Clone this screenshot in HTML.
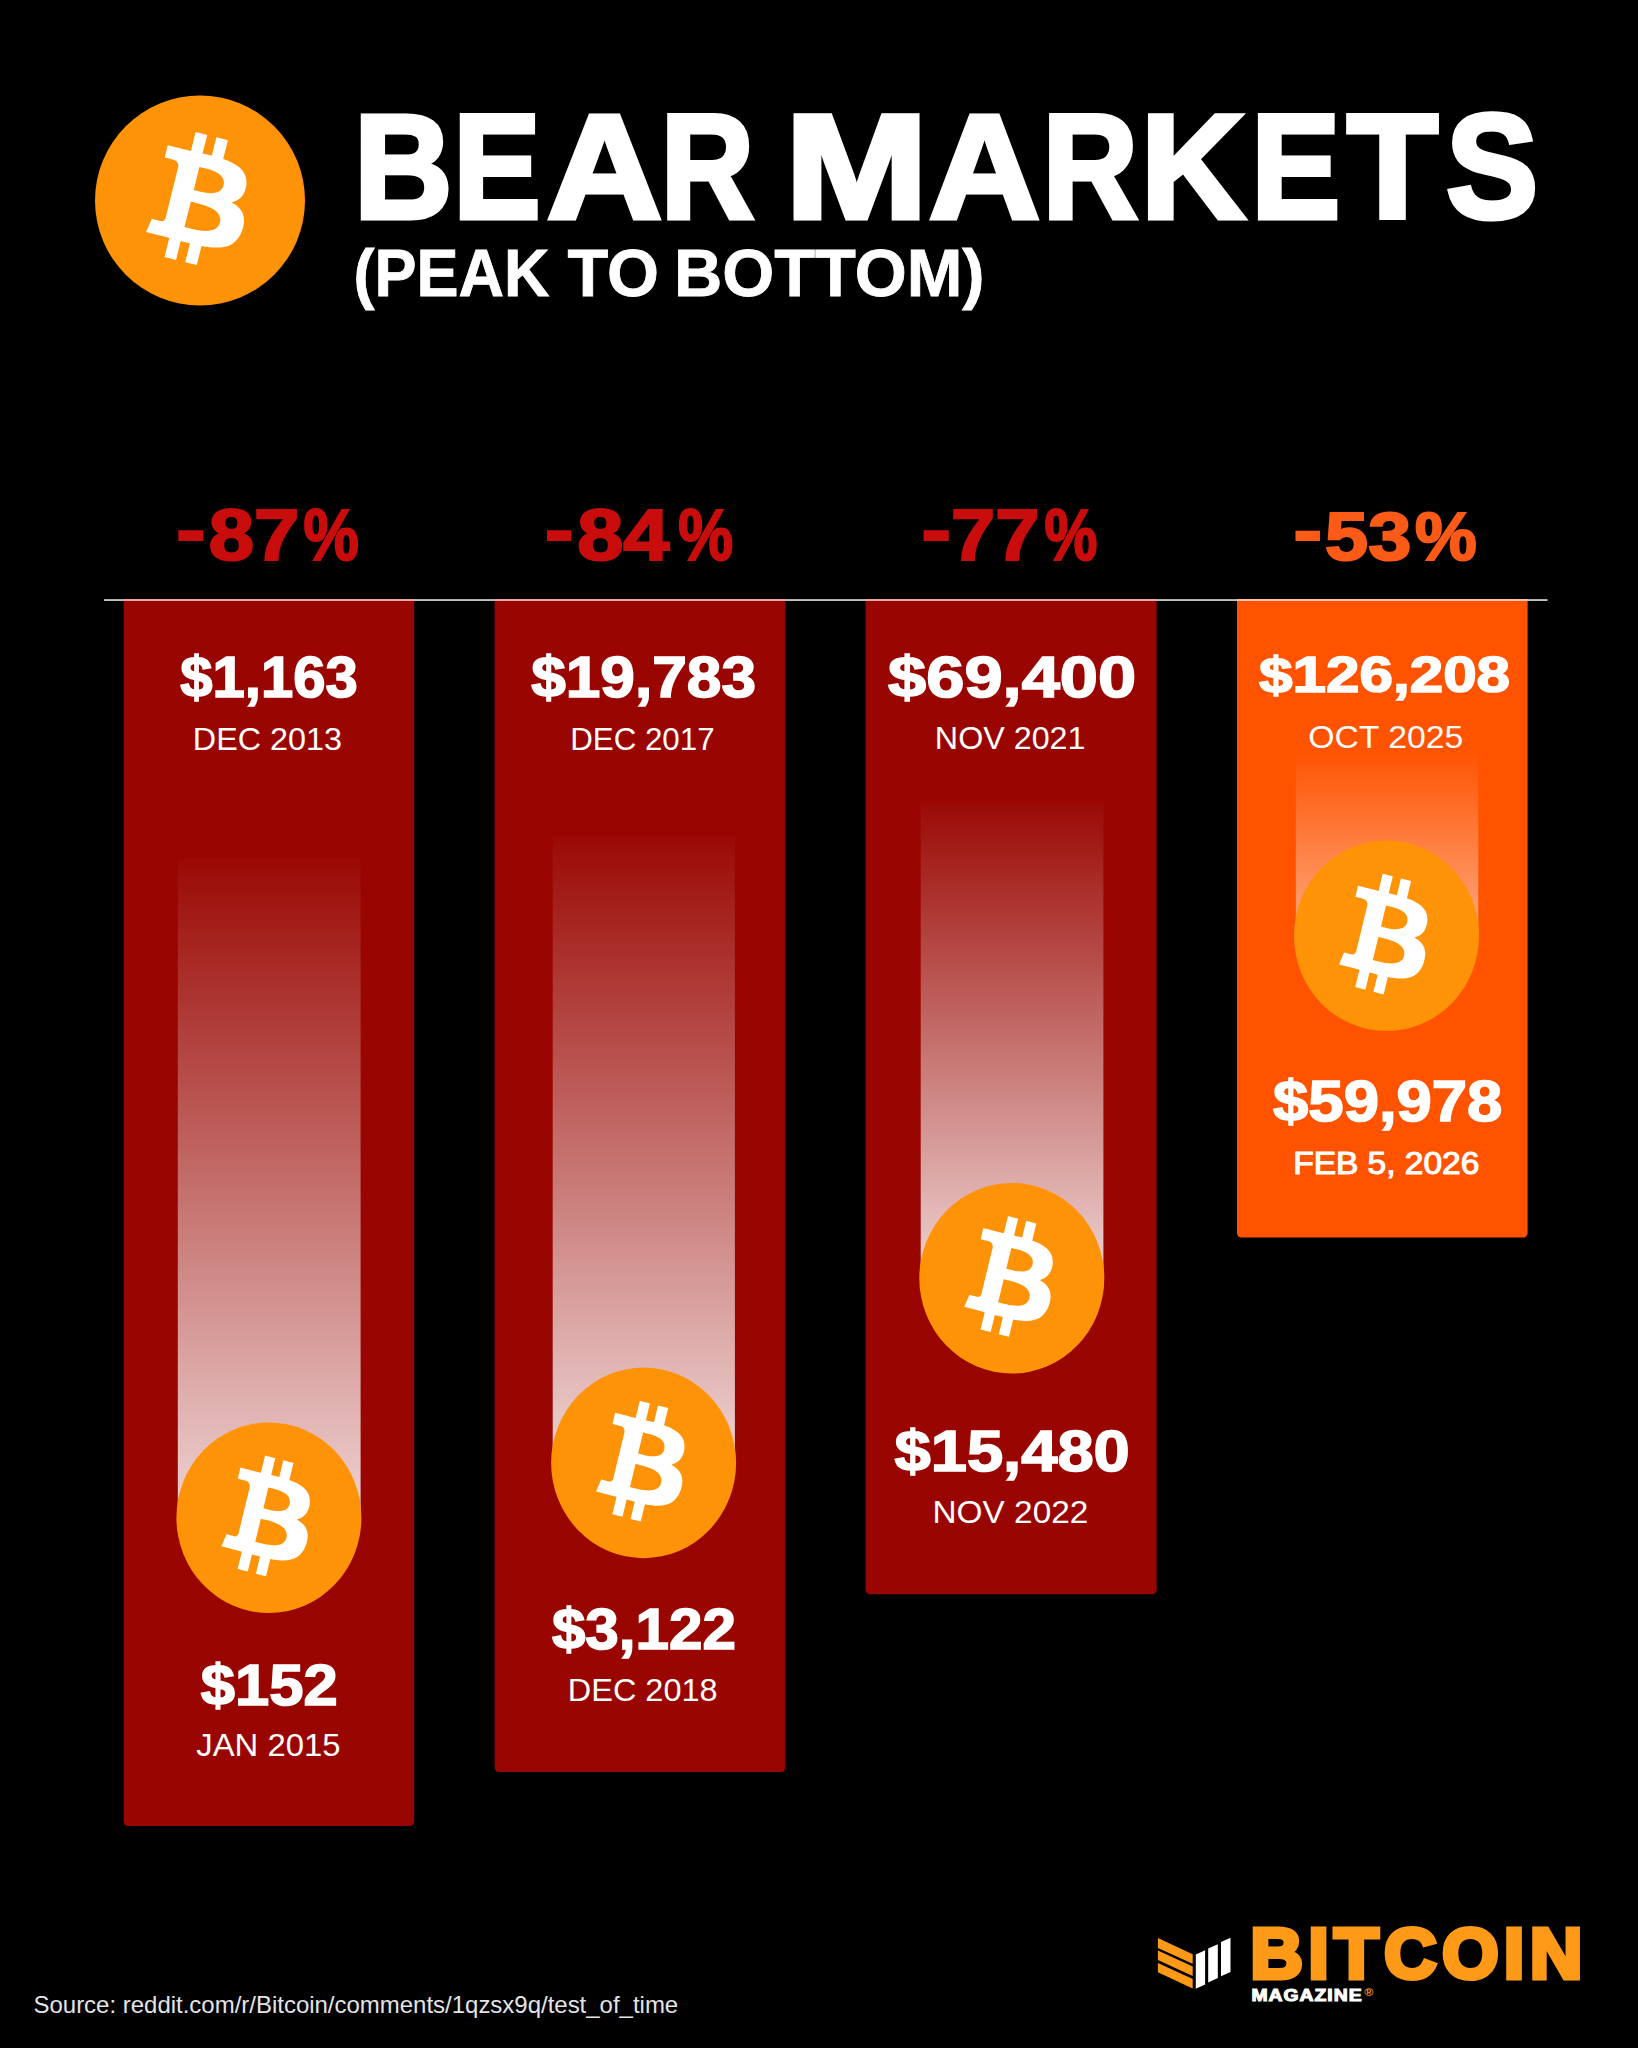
<!DOCTYPE html>
<html lang="en"><head><meta charset="utf-8"><title>Bear Markets (Peak to Bottom)</title>
<style>html,body{margin:0;padding:0;background:#000;}svg{display:block}.t{font-family:"Liberation Sans",sans-serif;}</style></head><body>
<svg width="1638" height="2048" viewBox="0 0 1638 2048">
<defs><linearGradient id="gr" x1="0" y1="0" x2="0" y2="1"><stop offset="0" stop-color="#fff" stop-opacity="0.02"/><stop offset="1" stop-color="#fff" stop-opacity="0.83"/></linearGradient><linearGradient id="go" x1="0" y1="0" x2="0" y2="1"><stop offset="0" stop-color="#fff" stop-opacity="0.0"/><stop offset="1" stop-color="#fff" stop-opacity="0.50"/></linearGradient></defs>
<rect width="1638" height="2048" fill="#000"/>
<g id="hdr"><ellipse cx="200" cy="200.5" rx="105" ry="105" fill="#ff9308"/><path fill="#fff" transform="translate(95.00 95.50) scale(3.2812 3.2812)" d="m46.103,27.444c0.637-4.258-2.605-6.547-7.038-8.074l1.438-5.768-3.511-0.875-1.4,5.616c-0.923-0.23-1.871-0.447-2.813-0.662l1.41-5.653-3.509-0.875-1.439,5.766c-0.764-0.174-1.514-0.346-2.242-0.527l0.004-0.018-4.842-1.209-0.934,3.75s2.605,0.597,2.55,0.634c1.422,0.355,1.679,1.296,1.636,2.042l-1.638,6.571c0.098,0.025,0.225,0.061,0.365,0.117-0.117-0.029-0.242-0.061-0.371-0.092l-2.296,9.205c-0.174,0.432-0.615,1.08-1.609,0.834,0.035,0.051-2.552-0.637-2.552-0.637l-1.743,4.019,4.569,1.139c0.85,0.213,1.683,0.436,2.503,0.646l-1.453,5.834,3.507,0.875,1.439-5.772c0.958,0.26,1.888,0.5,2.798,0.726l-1.434,5.745,3.511,0.875,1.453-5.823c5.987,1.133,10.489,0.676,12.384-4.739,1.527-4.36-0.076-6.875-3.226-8.515,2.294-0.529,4.022-2.038,4.483-5.155zm-8.022,11.249c-1.085,4.36-8.426,2.003-10.806,1.412l1.928-7.729c2.38,0.594,10.012,1.77,8.878,6.317zm1.086-11.312c-0.99,3.966-7.1,1.951-9.082,1.457l1.748-7.01c1.982,0.494,8.365,1.416,7.334,5.553z"/></g>
<g id="bars">
<path fill="#990500" d="M123.6 600H414.2V1821Q414.2 1826 409.2 1826H128.6Q123.6 1826 123.6 1821Z"/>
<path fill="#990500" d="M494.6 600H785.4V1767Q785.4 1772 780.4 1772H499.6Q494.6 1772 494.6 1767Z"/>
<path fill="#990500" d="M865.6 600H1156.6V1589.2Q1156.6 1594.2 1151.6 1594.2H870.6Q865.6 1594.2 865.6 1589.2Z"/>
<path fill="#ff5300" d="M1237 600H1527.6V1232.6Q1527.6 1237.6 1522.6 1237.6H1242Q1237 1237.6 1237 1232.6Z"/>
</g>
<g id="rule"><rect x="104" y="599.1" width="1443.5" height="1.9" fill="#c2c2c2"/>
<rect x="123.6" y="599.1" width="290.6" height="1.9" fill="#eaa7a7"/>
<rect x="494.6" y="599.1" width="290.8" height="1.9" fill="#eaa7a7"/>
<rect x="865.6" y="599.1" width="291.0" height="1.9" fill="#eaa7a7"/>
<rect x="1237" y="599.1" width="290.6" height="1.9" fill="#ffc4a8"/>
</g>
<g id="strips">
<rect x="177.8" y="859" width="182.8" height="659" fill="url(#gr)"/>
<rect x="552.7" y="836.5" width="182.2" height="626.5" fill="url(#gr)"/>
<rect x="920.7" y="803" width="182.7" height="475" fill="url(#gr)"/>
<rect x="1295.8" y="750" width="182.5" height="186" fill="url(#go)"/>
</g>
<g id="coins">
<ellipse cx="268.9" cy="1517.7" rx="92.5" ry="95.3" fill="#ff9308"/><path fill="#fff" transform="translate(176.40 1422.40) scale(2.8906 2.9781)" d="m46.103,27.444c0.637-4.258-2.605-6.547-7.038-8.074l1.438-5.768-3.511-0.875-1.4,5.616c-0.923-0.23-1.871-0.447-2.813-0.662l1.41-5.653-3.509-0.875-1.439,5.766c-0.764-0.174-1.514-0.346-2.242-0.527l0.004-0.018-4.842-1.209-0.934,3.75s2.605,0.597,2.55,0.634c1.422,0.355,1.679,1.296,1.636,2.042l-1.638,6.571c0.098,0.025,0.225,0.061,0.365,0.117-0.117-0.029-0.242-0.061-0.371-0.092l-2.296,9.205c-0.174,0.432-0.615,1.08-1.609,0.834,0.035,0.051-2.552-0.637-2.552-0.637l-1.743,4.019,4.569,1.139c0.85,0.213,1.683,0.436,2.503,0.646l-1.453,5.834,3.507,0.875,1.439-5.772c0.958,0.26,1.888,0.5,2.798,0.726l-1.434,5.745,3.511,0.875,1.453-5.823c5.987,1.133,10.489,0.676,12.384-4.739,1.527-4.36-0.076-6.875-3.226-8.515,2.294-0.529,4.022-2.038,4.483-5.155zm-8.022,11.249c-1.085,4.36-8.426,2.003-10.806,1.412l1.928-7.729c2.38,0.594,10.012,1.77,8.878,6.317zm1.086-11.312c-0.99,3.966-7.1,1.951-9.082,1.457l1.748-7.01c1.982,0.494,8.365,1.416,7.334,5.553z"/>
<ellipse cx="643.6" cy="1462.9" rx="92.5" ry="95.3" fill="#ff9308"/><path fill="#fff" transform="translate(551.10 1367.60) scale(2.8906 2.9781)" d="m46.103,27.444c0.637-4.258-2.605-6.547-7.038-8.074l1.438-5.768-3.511-0.875-1.4,5.616c-0.923-0.23-1.871-0.447-2.813-0.662l1.41-5.653-3.509-0.875-1.439,5.766c-0.764-0.174-1.514-0.346-2.242-0.527l0.004-0.018-4.842-1.209-0.934,3.75s2.605,0.597,2.55,0.634c1.422,0.355,1.679,1.296,1.636,2.042l-1.638,6.571c0.098,0.025,0.225,0.061,0.365,0.117-0.117-0.029-0.242-0.061-0.371-0.092l-2.296,9.205c-0.174,0.432-0.615,1.08-1.609,0.834,0.035,0.051-2.552-0.637-2.552-0.637l-1.743,4.019,4.569,1.139c0.85,0.213,1.683,0.436,2.503,0.646l-1.453,5.834,3.507,0.875,1.439-5.772c0.958,0.26,1.888,0.5,2.798,0.726l-1.434,5.745,3.511,0.875,1.453-5.823c5.987,1.133,10.489,0.676,12.384-4.739,1.527-4.36-0.076-6.875-3.226-8.515,2.294-0.529,4.022-2.038,4.483-5.155zm-8.022,11.249c-1.085,4.36-8.426,2.003-10.806,1.412l1.928-7.729c2.38,0.594,10.012,1.77,8.878,6.317zm1.086-11.312c-0.99,3.966-7.1,1.951-9.082,1.457l1.748-7.01c1.982,0.494,8.365,1.416,7.334,5.553z"/>
<ellipse cx="1011.8" cy="1278.2" rx="92.5" ry="95.3" fill="#ff9308"/><path fill="#fff" transform="translate(919.30 1182.90) scale(2.8906 2.9781)" d="m46.103,27.444c0.637-4.258-2.605-6.547-7.038-8.074l1.438-5.768-3.511-0.875-1.4,5.616c-0.923-0.23-1.871-0.447-2.813-0.662l1.41-5.653-3.509-0.875-1.439,5.766c-0.764-0.174-1.514-0.346-2.242-0.527l0.004-0.018-4.842-1.209-0.934,3.75s2.605,0.597,2.55,0.634c1.422,0.355,1.679,1.296,1.636,2.042l-1.638,6.571c0.098,0.025,0.225,0.061,0.365,0.117-0.117-0.029-0.242-0.061-0.371-0.092l-2.296,9.205c-0.174,0.432-0.615,1.08-1.609,0.834,0.035,0.051-2.552-0.637-2.552-0.637l-1.743,4.019,4.569,1.139c0.85,0.213,1.683,0.436,2.503,0.646l-1.453,5.834,3.507,0.875,1.439-5.772c0.958,0.26,1.888,0.5,2.798,0.726l-1.434,5.745,3.511,0.875,1.453-5.823c5.987,1.133,10.489,0.676,12.384-4.739,1.527-4.36-0.076-6.875-3.226-8.515,2.294-0.529,4.022-2.038,4.483-5.155zm-8.022,11.249c-1.085,4.36-8.426,2.003-10.806,1.412l1.928-7.729c2.38,0.594,10.012,1.77,8.878,6.317zm1.086-11.312c-0.99,3.966-7.1,1.951-9.082,1.457l1.748-7.01c1.982,0.494,8.365,1.416,7.334,5.553z"/>
<ellipse cx="1386.5" cy="935.8" rx="92.5" ry="95.3" fill="#ff9308"/><path fill="#fff" transform="translate(1294.00 840.50) scale(2.8906 2.9781)" d="m46.103,27.444c0.637-4.258-2.605-6.547-7.038-8.074l1.438-5.768-3.511-0.875-1.4,5.616c-0.923-0.23-1.871-0.447-2.813-0.662l1.41-5.653-3.509-0.875-1.439,5.766c-0.764-0.174-1.514-0.346-2.242-0.527l0.004-0.018-4.842-1.209-0.934,3.75s2.605,0.597,2.55,0.634c1.422,0.355,1.679,1.296,1.636,2.042l-1.638,6.571c0.098,0.025,0.225,0.061,0.365,0.117-0.117-0.029-0.242-0.061-0.371-0.092l-2.296,9.205c-0.174,0.432-0.615,1.08-1.609,0.834,0.035,0.051-2.552-0.637-2.552-0.637l-1.743,4.019,4.569,1.139c0.85,0.213,1.683,0.436,2.503,0.646l-1.453,5.834,3.507,0.875,1.439-5.772c0.958,0.26,1.888,0.5,2.798,0.726l-1.434,5.745,3.511,0.875,1.453-5.823c5.987,1.133,10.489,0.676,12.384-4.739,1.527-4.36-0.076-6.875-3.226-8.515,2.294-0.529,4.022-2.038,4.483-5.155zm-8.022,11.249c-1.085,4.36-8.426,2.003-10.806,1.412l1.928-7.729c2.38,0.594,10.012,1.77,8.878,6.317zm1.086-11.312c-0.99,3.966-7.1,1.951-9.082,1.457l1.748-7.01c1.982,0.494,8.365,1.416,7.334,5.553z"/>
</g>
<g id="bmicon"><path fill="#fe9a18" d="M1157.9 1938.1L1192.7 1954.3V1963.8L1157.9 1947.9Z M1157.9 1950.6L1192.7 1966.5V1976L1157.9 1960.1Z M1157.9 1962.9L1192.7 1979V1988.5L1157.9 1972.3Z"/><path fill="#fff" d="M1195.8 1954.6L1205.1 1950.3V1984.5L1195.8 1988.8Z M1208.2 1948.5L1217.8 1944.2V1978.1L1208.2 1982.4Z M1221 1942.1L1230.5 1937.8V1972L1221 1976.3Z"/></g>
<g id="texts">
<text id="title" class="t" font-size="148.3" font-weight="bold" fill="#fff" stroke="#fff" stroke-width="5.0" stroke-linejoin="miter"><tspan id="title_0" x="354.09" y="218.10" textLength="98.39" lengthAdjust="spacingAndGlyphs">B</tspan><tspan id="title_1" x="453.28" y="218.10" textLength="87.31" lengthAdjust="spacingAndGlyphs">E</tspan><tspan id="title_2" x="547.00" y="218.10" textLength="115.01" lengthAdjust="spacingAndGlyphs">A</tspan><tspan id="title_3" x="660.65" y="218.10" textLength="93.30" lengthAdjust="spacingAndGlyphs">R</tspan> <tspan id="title_4" x="785.01" y="218.10" textLength="143.05" lengthAdjust="spacingAndGlyphs">M</tspan><tspan id="title_5" x="928.99" y="218.10" textLength="111.02" lengthAdjust="spacingAndGlyphs">A</tspan><tspan id="title_6" x="1042.61" y="218.10" textLength="95.35" lengthAdjust="spacingAndGlyphs">R</tspan><tspan id="title_7" x="1140.74" y="218.10" textLength="104.16" lengthAdjust="spacingAndGlyphs">K</tspan><tspan id="title_8" x="1251.24" y="218.10" textLength="89.00" lengthAdjust="spacingAndGlyphs">E</tspan><tspan id="title_9" x="1347.00" y="218.10" textLength="91.05" lengthAdjust="spacingAndGlyphs">T</tspan><tspan id="title_10" x="1445.95" y="218.10" textLength="92.20" lengthAdjust="spacingAndGlyphs">S</tspan></text>
<text id="sub" class="t" font-size="66.6" font-weight="bold" fill="#fff" stroke="#fff" stroke-width="0.8" stroke-linejoin="miter"><tspan id="sub_0" x="353.46" y="295.65" textLength="196.05" lengthAdjust="spacingAndGlyphs">(PEAK</tspan> <tspan id="sub_1" x="567.50" y="295.65" textLength="91.56" lengthAdjust="spacingAndGlyphs">TO</tspan> <tspan id="sub_2" x="673.91" y="295.65" textLength="310.68" lengthAdjust="spacingAndGlyphs">BOTTOM)</tspan></text>
<text id="p1" class="t" font-size="72.5" font-weight="bold" fill="#c90c0c" stroke="#c90c0c" stroke-width="2.2" stroke-linejoin="miter"><tspan id="p1_0" x="176.22" y="554.20" textLength="29.20" lengthAdjust="spacingAndGlyphs">-</tspan><tspan id="p1_1" x="208.70" y="560.40" textLength="90.62" lengthAdjust="spacingAndGlyphs">87</tspan><tspan id="p1_2" x="303.53" y="560.40" textLength="55.27" lengthAdjust="spacingAndGlyphs">%</tspan></text>
<text id="p2" class="t" font-size="72.5" font-weight="bold" fill="#c90c0c" stroke="#c90c0c" stroke-width="2.2" stroke-linejoin="miter"><tspan id="p2_0" x="545.00" y="554.20" textLength="28.46" lengthAdjust="spacingAndGlyphs">-</tspan><tspan id="p2_1" x="577.20" y="560.40" textLength="92.30" lengthAdjust="spacingAndGlyphs">84</tspan><tspan id="p2_2" x="678.14" y="560.40" textLength="54.86" lengthAdjust="spacingAndGlyphs">%</tspan></text>
<text id="p3" class="t" font-size="72.5" font-weight="bold" fill="#c90c0c" stroke="#c90c0c" stroke-width="2.2" stroke-linejoin="miter"><tspan id="p3_0" x="921.40" y="554.20" textLength="29.48" lengthAdjust="spacingAndGlyphs">-</tspan><tspan id="p3_1" x="951.07" y="560.40" textLength="88.22" lengthAdjust="spacingAndGlyphs">77</tspan><tspan id="p3_2" x="1044.58" y="560.40" textLength="52.88" lengthAdjust="spacingAndGlyphs">%</tspan></text>
<text id="p4" class="t" font-size="69.2" font-weight="bold" fill="#fb5a17" stroke="#fb5a17" stroke-width="2.2" stroke-linejoin="miter"><tspan id="p4_0" x="1293.57" y="554.20" textLength="28.54" lengthAdjust="spacingAndGlyphs">-</tspan><tspan id="p4_1" x="1325.13" y="560.40" textLength="86.13" lengthAdjust="spacingAndGlyphs">53</tspan><tspan id="p4_2" x="1414.91" y="560.40" textLength="61.69" lengthAdjust="spacingAndGlyphs">%</tspan></text>
<text id="a1" class="t" x="180.30" y="696.60" font-size="57" font-weight="bold" fill="#fff" stroke="#fff" stroke-width="1.6" stroke-linejoin="miter" textLength="177.41" lengthAdjust="spacingAndGlyphs">$1,163</text>
<text id="a2" class="t" x="531.20" y="696.60" font-size="57" font-weight="bold" fill="#fff" stroke="#fff" stroke-width="1.6" stroke-linejoin="miter" textLength="224.80" lengthAdjust="spacingAndGlyphs">$19,783</text>
<text id="a3" class="t" x="888.10" y="696.60" font-size="57" font-weight="bold" fill="#fff" stroke="#fff" stroke-width="1.6" stroke-linejoin="miter" textLength="248.12" lengthAdjust="spacingAndGlyphs">$69,400</text>
<text id="a4" class="t" x="1259.00" y="691.70" font-size="50.1" font-weight="bold" fill="#fff" stroke="#fff" stroke-width="1.6" stroke-linejoin="miter" textLength="251.10" lengthAdjust="spacingAndGlyphs">$126,208</text>
<text id="d1" class="t" x="192.88" y="749.60" font-size="31.4" font-weight="normal" fill="#fff" textLength="149.11" lengthAdjust="spacingAndGlyphs">DEC 2013</text>
<text id="d2" class="t" x="570.15" y="749.60" font-size="31.4" font-weight="normal" fill="#fff" textLength="144.45" lengthAdjust="spacingAndGlyphs">DEC 2017</text>
<text id="d3" class="t" x="934.84" y="749.30" font-size="31.4" font-weight="normal" fill="#fff" textLength="150.64" lengthAdjust="spacingAndGlyphs">NOV 2021</text>
<text id="d4" class="t" x="1308.23" y="748.20" font-size="31.4" font-weight="normal" fill="#fff" textLength="155.08" lengthAdjust="spacingAndGlyphs">OCT 2025</text>
<text id="b1" class="t" x="200.77" y="1704.60" font-size="57" font-weight="bold" fill="#fff" stroke="#fff" stroke-width="1.6" stroke-linejoin="miter" textLength="136.89" lengthAdjust="spacingAndGlyphs">$152</text>
<text id="b2" class="t" x="551.90" y="1649.30" font-size="57" font-weight="bold" fill="#fff" stroke="#fff" stroke-width="1.6" stroke-linejoin="miter" textLength="184.01" lengthAdjust="spacingAndGlyphs">$3,122</text>
<text id="b3" class="t" x="894.50" y="1470.90" font-size="57" font-weight="bold" fill="#fff" stroke="#fff" stroke-width="1.6" stroke-linejoin="miter" textLength="235.31" lengthAdjust="spacingAndGlyphs">$15,480</text>
<text id="b4" class="t" x="1273.10" y="1121.20" font-size="57" font-weight="bold" fill="#fff" stroke="#fff" stroke-width="1.6" stroke-linejoin="miter" textLength="229.25" lengthAdjust="spacingAndGlyphs">$59,978</text>
<text id="e1" class="t" x="196.25" y="1755.80" font-size="31.4" font-weight="normal" fill="#fff" textLength="144.19" lengthAdjust="spacingAndGlyphs">JAN 2015</text>
<text id="e2" class="t" x="567.81" y="1700.90" font-size="31.4" font-weight="normal" fill="#fff" textLength="149.78" lengthAdjust="spacingAndGlyphs">DEC 2018</text>
<text id="e3" class="t" x="932.54" y="1522.80" font-size="31.4" font-weight="normal" fill="#fff" textLength="155.76" lengthAdjust="spacingAndGlyphs">NOV 2022</text>
<text id="e4" class="t" x="1293.19" y="1174.00" font-size="30.6" font-weight="normal" fill="#fff" stroke="#fff" stroke-width="1.1" stroke-linejoin="miter" textLength="186.16" lengthAdjust="spacingAndGlyphs">FEB 5, 2026</text>
<text id="src" class="t" x="33.49" y="2013.20" font-size="24" font-weight="normal" fill="#e4e4e4" textLength="644.71" lengthAdjust="spacingAndGlyphs">Source: reddit.com/r/Bitcoin/comments/1qzsx9q/test_of_time</text>
<text id="bm" class="t" x="1250.56" y="1977.60" font-size="70.2" font-weight="bold" fill="#fe9a18" stroke="#fe9a18" stroke-width="5.0" stroke-linejoin="miter" letter-spacing="5.5" textLength="337.30" lengthAdjust="spacingAndGlyphs">BITCOIN</text>
<text id="mag" class="t" x="1251.45" y="2000.60" font-size="15.6" font-weight="bold" fill="#fff" stroke="#fff" stroke-width="1.0" stroke-linejoin="miter" letter-spacing="0.8" textLength="111.17" lengthAdjust="spacingAndGlyphs">MAGAZINE</text>
<text id="reg" class="t" x="1364.17" y="1996.20" font-size="11" font-weight="bold" fill="#fe9a18" textLength="9.11" lengthAdjust="spacingAndGlyphs">®</text>
</g>
</svg></body></html>
